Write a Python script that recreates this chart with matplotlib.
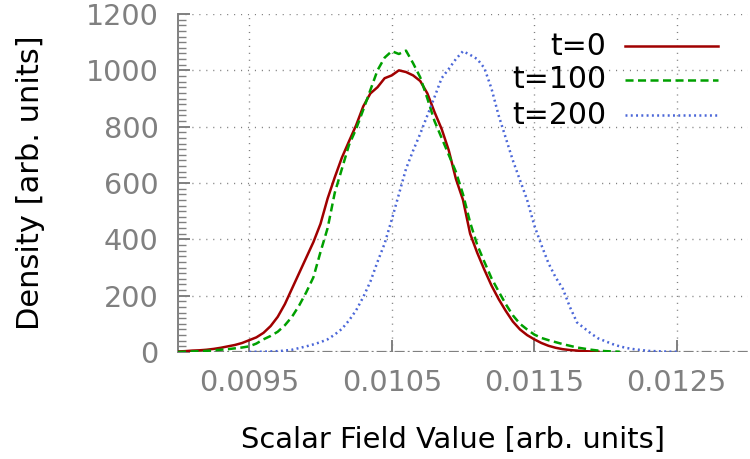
import matplotlib
matplotlib.use('Agg')
import matplotlib.pyplot as plt
from matplotlib.ticker import MultipleLocator, FixedLocator
import numpy as np

# scalar field values (bin centres), shared step of 0.00005
x_t0 = np.round(np.arange(0.00900, 0.011951, 0.00005), 5)
x_t100 = np.round(np.arange(0.00900, 0.012101, 0.00005), 5)
x_t200 = np.round(np.arange(0.00950, 0.012501, 0.00005), 5)

# densities
d_t0 = [2, 3, 5, 6, 8, 11, 15, 20, 25, 32,
        42, 52, 68, 92, 125, 170, 225, 280, 335, 390,
        455, 545, 620, 690, 748, 805, 872, 918, 940, 972,
        982, 1000, 994, 982, 962, 918, 852, 792, 716, 615,
        540, 420, 352, 292, 236, 188, 146, 108, 80, 60,
        45, 32, 22, 15, 10, 7, 5, 3, 2, 1]
d_t100 = [0, 1, 2, 3, 4, 6, 8, 10, 13, 16,
          20, 30, 45, 57, 72, 95, 125, 165, 212, 265,
          355, 440, 565, 650, 735, 792, 860, 930, 1000, 1045,
          1068, 1058, 1070, 1025, 975, 900, 820, 760, 700, 640,
          560, 460, 380, 320, 262, 215, 170, 130, 100, 80,
          62, 50, 42, 35, 28, 22, 16, 12, 8, 5,
          3, 2, 1]
d_t200 = [0, 1, 1, 2, 3, 5, 8, 14, 20, 27,
          35, 45, 62, 82, 112, 148, 195, 250, 320, 385,
          470, 560, 650, 715, 775, 840, 905, 972, 1005, 1040,
          1068, 1055, 1040, 1008, 935, 840, 760, 680, 610, 540,
          450, 380, 315, 265, 225, 160, 105, 85, 65, 48,
          38, 28, 20, 14, 10, 7, 4, 3, 2, 1,
          1]

labels = ['t=0', 't=100', 't=200']
x_ticks = [0.0095, 0.0105, 0.0115, 0.0125]
x_tick_labels = ['0.0095', '0.0105', '0.0115', '0.0125']

plt.rcParams['font.family'] = ['DejaVu Sans']
plt.rcParams['lines.scale_dashes'] = False
grey = '#808080'

fig = plt.figure(figsize=(7.5, 4.59), dpi=100)
ax = fig.add_axes([178 / 750, 1 - 352 / 459, 570 / 750, 338 / 459])

styles = [
    dict(color='#a00000', linestyle='-'),
    dict(color='#00a000', dashes=(5.8, 3.2)),
    dict(color='#4a66d8', dashes=(1.4, 2.4)),
]
series = [(x_t0, d_t0), (x_t100, d_t100), (x_t200, d_t200)]
for (xs, ds), st in zip(series, styles):
    ax.plot(xs, ds, lw=1.8, zorder=3, **st)

ax.set_xlim(0.009, 0.013)
ax.set_ylim(0, 1200)

# gnuplot-like frame: only left border plus a dash-dot zero axis
for side in ['top', 'right', 'bottom']:
    ax.spines[side].set_visible(False)
ax.spines['left'].set_color(grey)
ax.spines['left'].set_linewidth(1.4)
ax.axhline(0, color=grey, lw=1.6, dashes=(7.2, 2.2, 1.4, 2.2), zorder=2)

ax.xaxis.set_major_locator(FixedLocator(x_ticks))
ax.set_xticklabels(x_tick_labels)
ax.yaxis.set_major_locator(MultipleLocator(200))
ax.yaxis.set_minor_locator(MultipleLocator(20))
ax.tick_params(axis='both', which='major', direction='in', length=8.6, width=1.4,
               color=grey, labelcolor=grey, labelsize=20.6)
ax.tick_params(axis='x', pad=12)
ax.tick_params(axis='y', pad=14)
ax.tick_params(axis='y', which='minor', direction='in', length=5.5, width=1.0, color=grey)

ax.grid(True, which='major', color=grey, lw=1.0, dashes=(0.8, 4.2))
ax.set_axisbelow(True)

ax.set_xlabel('Scalar Field Value [arb. units]', fontsize=20.8)
ax.xaxis.set_label_coords(0.482, -0.218)
ax.set_ylabel('Density [arb. units]', fontsize=22, labelpad=29)

# key in the upper right, text right-aligned before the sample line
rows = [0.905, 0.805, 0.701]
for lab, y, st in zip(labels, rows, styles):
    ax.text(0.751, y, lab, transform=ax.transAxes, ha='right', va='center',
            fontsize=21.6, color='black', zorder=5)
    ax.plot([0.784, 0.947], [y, y], transform=ax.transAxes, lw=1.8, zorder=5, **st)

fig.savefig('out.png', dpi=100)
